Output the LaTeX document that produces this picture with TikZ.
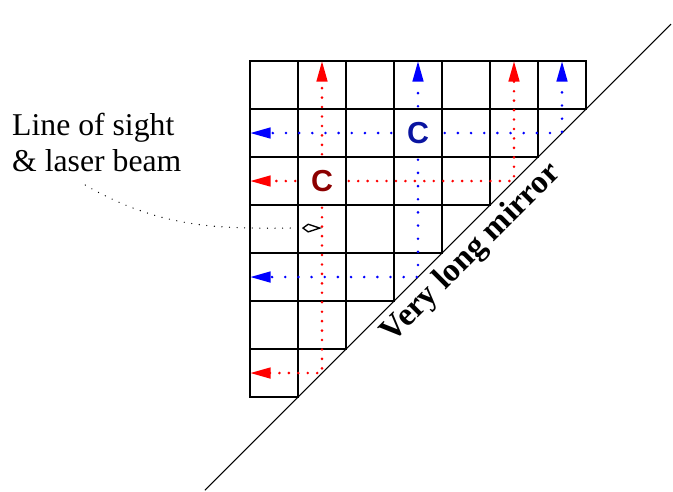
\documentclass[tikz,border=0pt]{standalone}
\usepackage{fontspec}
\setmainfont{Liberation Serif}
\newfontfamily\letterfont{Liberation Sans}
\usetikzlibrary{arrows.meta}
\definecolor{cred}{RGB}{140,0,0}
\definecolor{cblue}{RGB}{10,20,160}

\begin{document}
\begin{tikzpicture}[
  cell/.style={draw=black,line width=1.4pt},
  raytip/.style={-{Triangle[length=4.3mm,width=2.2mm]}},
  redray/.style={red,line width=1.7pt,line cap=round,dash pattern=on 0pt off 5.6pt,raytip},
  blueray/.style={blue,line width=1.7pt,line cap=round,dash pattern=on 0pt off 7.8pt,raytip},
  laser/.style={circle,inner sep=0pt,minimum size=1.1cm,font=\letterfont\bfseries\fontsize{18pt}{20pt}\selectfont},
  bigtext/.style={font=\fontsize{18.8pt}{21.3pt}\selectfont},
  sight/.style={black,line width=0.8pt,line cap=round,dash pattern=on 0pt off 4.5pt,-{Kite[open,length=4.2mm,width=1.9mm,inset=1.3mm]}}
]
\useasboundingbox (-5.208,-8.958) rectangle (8.812,1.271);
\foreach \r in {0,...,6} {
  \pgfmathtruncatemacro\last{6-\r}
  \foreach \c in {0,...,\last} {\draw[cell] (\c,-\r) rectangle ++(1,-1);}
}
\coordinate (mlow) at (-0.94,-8.94);
\coordinate (mhigh) at (8.77,0.77);
\draw[line width=0.6pt] (mlow) -- (mhigh)
  node[pos=0.54,sloped,anchor=north,font=\bfseries\fontsize{19.5pt}{22pt}\selectfont] (mirrorlabel) {Very long mirror};
\node[laser,text=cred] (rc) at (1.5,-2.5) {C};
\node[laser,text=cblue] (bc) at (3.5,-1.5) {C};
\coordinate (rm1) at (5.5,-2.5);
\coordinate (rm2) at (1.5,-6.5);
\coordinate (bm1) at (6.5,-1.5);
\coordinate (bm2) at (3.5,-4.5);
\draw[redray] (rc) -- (0,-2.5);
\draw[redray] (rc) -- (1.5,0);
\draw[redray] (rc) -- (rm1) -- (5.5,0);
\draw[redray] (rc) -- (rm2) -- (0,-6.5);
\draw[blueray] (bc) -- (0,-1.5);
\draw[blueray] (bc) -- (3.5,0);
\draw[blueray] (bc) -- (bm1) -- (6.5,0);
\draw[blueray] (bc) -- (bm2) -- (0,-4.5);
\node[bigtext,anchor=north west,inner sep=0pt,align=left] (los) at (-4.96,-1.08) {Line of sight\\\& laser beam};
\coordinate (eye) at (1.5,-3.48);
\draw[sight] ([shift={(-0.24,-0.27)}]los.south) to[out=-30,in=180] (eye);
\end{tikzpicture}
\end{document}
